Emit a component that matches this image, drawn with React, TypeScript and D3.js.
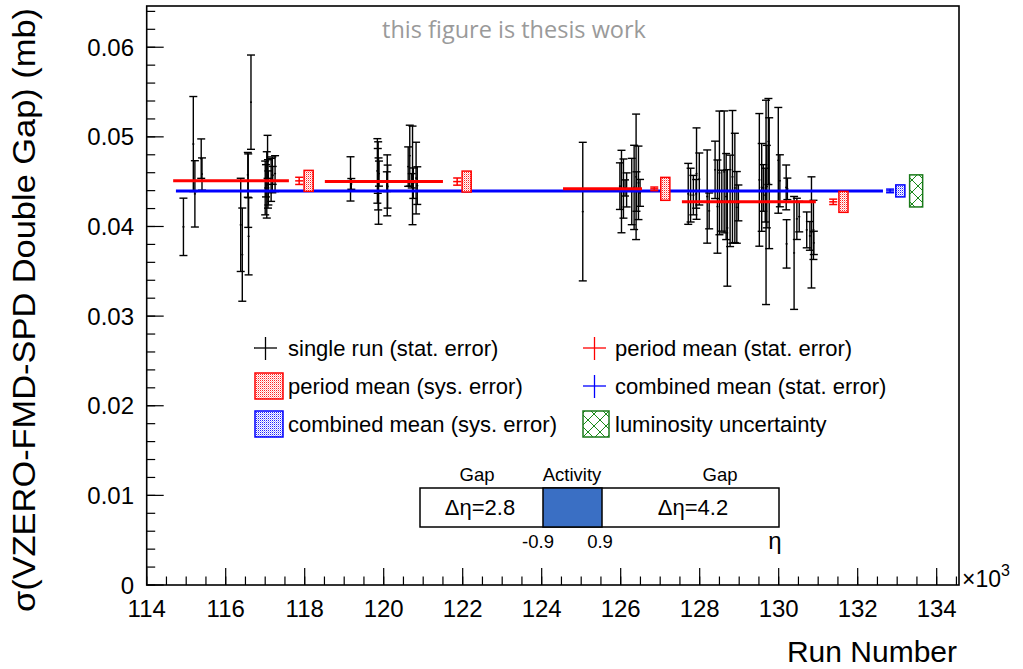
import React from "react";
import * as d3 from "d3";

const W = 1023;
const H = 669;
const PL = 146.7, PR = 959, PT = 6, PB = 585;

// ---- single runs (run number in units of 10^3, sigma in mb, stat. error) ----
const runNumbers = [
  114.93, 115.18, 115.22, 115.38, 115.40, 116.38, 116.42, 116.56, 116.57, 116.58, 116.64,
  117.00, 117.02, 117.04, 117.06, 117.07, 117.08, 117.15, 117.18, 117.19, 117.25,
  119.16, 119.18, 119.84, 119.85, 119.86, 119.87, 119.88, 120.08, 120.09, 120.10,
  120.62, 120.66, 120.71, 120.73, 120.75, 120.82, 120.85,
  125.04, 125.98, 126.02, 126.07, 126.11, 126.15, 126.28, 126.34, 126.39, 126.40, 126.45, 126.49,
  127.71, 127.77, 127.84, 127.91, 127.92, 127.99, 128.19, 128.24, 128.39, 128.45, 128.50, 128.56,
  128.62, 128.67, 128.70, 128.77, 128.83, 128.89, 128.94, 128.98,
  129.51, 129.57, 129.61, 129.66, 129.68, 129.70, 129.74, 129.76, 129.99, 130.03,
  130.19, 130.20, 130.22, 130.39, 130.46, 130.52, 130.71, 130.79, 130.83, 130.88, 130.89,
];
const sigmaValues = [
  0.03996, 0.0492, 0.04364, 0.04757, 0.04585, 0.04018, 0.03686, 0.04576, 0.0440, 0.0389, 0.05387,
  0.0443, 0.0451, 0.04464, 0.04777, 0.04475, 0.0443, 0.0452, 0.04576, 0.0457, 0.0459,
  0.04531, 0.04475, 0.0462, 0.0462, 0.04565, 0.04395, 0.0459, 0.045, 0.04459, 0.04445,
  0.04668, 0.0479, 0.0451, 0.0457, 0.04483, 0.0454, 0.04456,
  0.04166, 0.0445, 0.0439, 0.04423, 0.0443, 0.04408, 0.0439, 0.04436, 0.04554, 0.0439, 0.04487, 0.04375,
  0.04364, 0.0435, 0.0435, 0.04364, 0.0459, 0.0453, 0.04334, 0.04174, 0.04632, 0.04222, 0.04598, 0.04288,
  0.04609, 0.04334, 0.03984, 0.04286, 0.04554, 0.0443, 0.04213, 0.04263,
  0.0452, 0.04436, 0.0443, 0.0435, 0.04269, 0.04445, 0.04948, 0.04483, 0.04738, 0.0451,
  0.04436, 0.03806, 0.0442, 0.03705, 0.04085, 0.0411, 0.03962, 0.03895, 0.03934, 0.03962, 0.03817,
];
const statErrors = [
  0.0032, 0.0053, 0.0037, 0.0022, 0.0018, 0.0052, 0.0052, 0.0025, 0.0041, 0.0043, 0.00526,
  0.003, 0.0018, 0.0037, 0.0024, 0.0027, 0.0019, 0.0024, 0.002, 0.001, 0.002,
  0.00247, 0.0006, 0.0036, 0.0025, 0.0038, 0.0037, 0.0014, 0.0011, 0.0034, 0.0024,
  0.0022, 0.0034, 0.0008, 0.0055, 0.0017, 0.004, 0.0021,
  0.00773, 0.0026, 0.0046, 0.0033, 0.0009, 0.0019, 0.0037, 0.0047, 0.007, 0.0022, 0.0041, 0.0015,
  0.0034, 0.003, 0.0022, 0.0016, 0.0051, 0.0029, 0.0052, 0.002, 0.0032, 0.0052, 0.0069, 0.0034,
  0.0068, 0.0048, 0.0065, 0.0051, 0.0074, 0.0061, 0.004, 0.002,
  0.0074, 0.0049, 0.0026, 0.003, 0.0114, 0.0046, 0.0048, 0.0073, 0.0059, 0.0029,
  0.0025, 0.0027, 0.0012, 0.0063, 0.0023, 0.0017, 0.002, 0.0016, 0.0062, 0.0033, 0.0013,
];

// ---- period means ----
const periodStart = [114.67, 118.51, 124.54, 127.55];
const periodEnd = [117.6, 121.5, 126.54, 130.94];
const periodMean = [0.04509, 0.04501, 0.0442, 0.04275];
const periodStatErr = [0.0004, 0.0004, 0.0002, 0.0003];
const periodSysErr = [0.00117, 0.00117, 0.00128, 0.00117];
const periodStatPos = [117.86, 121.86, 126.85, 131.38];
const periodSysPos = [118.1, 122.1, 127.13, 131.64];

// ---- combined mean ----
const combinedStart = 114.74;
const combinedEnd = 132.64;
const combinedMean = 0.04397;
const combinedStatErr = 0.0002;
const combinedSysErr = 0.00067;
const combinedStatPos = 132.82;
const combinedSysPos = 133.08;
const lumiPos = 133.48;
const lumiErr = 0.00179;

// ---- axes ----
const xMajor = [114, 116, 118, 120, 122, 124, 126, 128, 130, 132, 134];
const xTickLabels = ["114", "116", "118", "120", "122", "124", "126", "128", "130", "132", "134"];
const yMajor = [0, 0.01, 0.02, 0.03, 0.04, 0.05, 0.06];
const yTickLabels = ["0", "0.01", "0.02", "0.03", "0.04", "0.05", "0.06"];

const legendLeft = ["single run (stat. error)", "period mean (sys. error)", "combined mean (sys. error)"];
const legendRight = ["period mean (stat. error)", "combined mean (stat. error)", "luminosity uncertainty"];

const FONT = "'Liberation Sans', Arial, Helvetica, sans-serif";

export default function App() {
  const x = d3.scaleLinear().domain([114, 134.565]).range([PL, PR]);
  const y = d3.scaleLinear().domain([0, 0.0646]).range([PB, PT]);

  const xMinor = d3.range(114, 134.51, 0.5);
  const yMinor = d3.range(0, 0.0641, 0.002);

  const cap = 4;
  const boxW = (c: number, w: number) => [x(c - w / 2), x(c + w / 2) - x(c - w / 2)];

  return (
    <svg
      width={W}
      height={H}
      style={{ position: "absolute", left: 0, top: 0, display: "block", background: "#fff" }}
      fontFamily={FONT}
    >
      <defs>
        <pattern id="redDots" width="2" height="2" patternUnits="userSpaceOnUse">
          <rect width="2" height="2" fill="#ffffff" />
          <rect width="1" height="1" fill="#ff2020" />
          <rect x="1" y="1" width="1" height="1" fill="#ffb0b0" />
        </pattern>
        <pattern id="blueDots" width="2" height="2" patternUnits="userSpaceOnUse">
          <rect width="2" height="2" fill="#ffffff" />
          <rect width="1" height="1" fill="#2020ff" />
          <rect x="1" y="1" width="1" height="1" fill="#b0b0ff" />
        </pattern>
        <pattern id="greenHatch" width="12" height="12" patternUnits="userSpaceOnUse">
          <rect width="12" height="12" fill="#fff" />
          <path d="M0,0 L12,12 M12,0 L0,12" stroke="#1a8a1a" strokeWidth="1" />
        </pattern>
      </defs>
      <rect x={0} y={0} width={W} height={H} fill="#fff" />

      <text x={514} y={38} textAnchor="middle" fontSize={23.5} fill="#9a9a9a" fontFamily="'Open Sans', 'Noto Sans', sans-serif">
        this figure is thesis work
      </text>

      {/* single runs */}
      {runNumbers.map((r, i) => {
        const cx = x(r);
        const y1 = y(sigmaValues[i] + statErrors[i]);
        const y0 = y(sigmaValues[i] - statErrors[i]);
        return (
          <g key={"r" + i} stroke="#000" strokeWidth={1.4}>
            <line x1={cx} x2={cx} y1={y1} y2={y0} />
            <line x1={cx - cap} x2={cx + cap} y1={y1} y2={y1} />
            <line x1={cx - cap} x2={cx + cap} y1={y0} y2={y0} />
            <line x1={cx - 1} x2={cx + 1} y1={y(sigmaValues[i])} y2={y(sigmaValues[i])} />
          </g>
        );
      })}

      {/* combined mean line */}
      <line x1={x(combinedStart)} x2={x(combinedEnd)} y1={y(combinedMean)} y2={y(combinedMean)} stroke="#0000ff" strokeWidth={3} />

      {/* period means */}
      {periodMean.map((m, i) => {
        const [bx, bw] = boxW(periodSysPos[i], 0.23);
        const sx = x(periodStatPos[i]);
        return (
          <g key={"p" + i}>
            <line x1={x(periodStart[i])} x2={x(periodEnd[i])} y1={y(m)} y2={y(m)} stroke="#ff0000" strokeWidth={3} />
            <g stroke="#ff0000" strokeWidth={1.5}>
              <line x1={sx} x2={sx} y1={y(m + periodStatErr[i])} y2={y(m - periodStatErr[i])} />
              <line x1={sx - cap} x2={sx + cap} y1={y(m + periodStatErr[i])} y2={y(m + periodStatErr[i])} />
              <line x1={sx - cap} x2={sx + cap} y1={y(m - periodStatErr[i])} y2={y(m - periodStatErr[i])} />
              <line x1={sx - cap} x2={sx + cap} y1={y(m)} y2={y(m)} />
            </g>
            <rect x={bx} width={bw} y={y(m + periodSysErr[i])} height={y(m - periodSysErr[i]) - y(m + periodSysErr[i])}
              fill="url(#redDots)" stroke="#ff0000" strokeWidth={1.5} />
          </g>
        );
      })}

      {/* combined stat / sys / lumi */}
      {(() => {
        const sx = x(combinedStatPos);
        const [bx, bw] = boxW(combinedSysPos, 0.23);
        const [gx, gw] = boxW(lumiPos, 0.33);
        return (
          <g>
            <g stroke="#0000ff" strokeWidth={1.5}>
              <line x1={sx} x2={sx} y1={y(combinedMean + combinedStatErr)} y2={y(combinedMean - combinedStatErr)} />
              <line x1={sx - cap} x2={sx + cap} y1={y(combinedMean + combinedStatErr)} y2={y(combinedMean + combinedStatErr)} />
              <line x1={sx - cap} x2={sx + cap} y1={y(combinedMean - combinedStatErr)} y2={y(combinedMean - combinedStatErr)} />
              <line x1={sx - cap} x2={sx + cap} y1={y(combinedMean)} y2={y(combinedMean)} />
            </g>
            <rect x={bx} width={bw} y={y(combinedMean + combinedSysErr)} height={y(combinedMean - combinedSysErr) - y(combinedMean + combinedSysErr)}
              fill="url(#blueDots)" stroke="#0000ff" strokeWidth={1.5} />
            <rect x={gx} width={gw} y={y(combinedMean + lumiErr)} height={y(combinedMean - lumiErr) - y(combinedMean + lumiErr)}
              fill="url(#greenHatch)" stroke="#1a7a1a" strokeWidth={1.5} />
          </g>
        );
      })()}

      {/* legend */}
      <g fontSize={22}>
        {legendLeft.map((t, i) => (
          <text key={"ll" + i} x={288} y={356 + i * 38} fill="#000">{t}</text>
        ))}
        {legendRight.map((t, i) => (
          <text key={"lr" + i} x={615} y={356 + i * 38} fill="#000">{t}</text>
        ))}
        <g stroke="#000" strokeWidth={1.3}>
          <line x1={254} x2={277} y1={348} y2={348} />
          <line x1={265.5} x2={265.5} y1={337} y2={360} />
        </g>
        <g stroke="#ff0000" strokeWidth={1.3}>
          <line x1={583} x2={606} y1={348} y2={348} />
          <line x1={594.5} x2={594.5} y1={337} y2={360} />
        </g>
        <g stroke="#0000ff" strokeWidth={1.3}>
          <line x1={583} x2={606} y1={386} y2={386} />
          <line x1={594.5} x2={594.5} y1={375} y2={398} />
        </g>
        <rect x={255} y={373} width={28} height={26} fill="url(#redDots)" stroke="#ff0000" strokeWidth={1.5} />
        <rect x={255} y={411} width={28} height={26} fill="url(#blueDots)" stroke="#0000ff" strokeWidth={1.5} />
        <rect x={583} y={411} width={26} height={26} fill="url(#greenHatch)" stroke="#1a7a1a" strokeWidth={1.5} />
      </g>

      {/* inset eta diagram */}
      <g>
        <rect x={420} y={488} width={359} height={39} fill="#fff" stroke="#000" strokeWidth={1.5} />
        <rect x={543} y={488} width={59} height={39} fill="#3a6fc4" stroke="#000" strokeWidth={1.5} />
        <g fontSize={18.5} textAnchor="middle" fill="#000">
          <text x={477} y={481}>Gap</text>
          <text x={572} y={481}>Activity</text>
          <text x={720} y={481}>Gap</text>
          <text x={538} y={548}>-0.9</text>
          <text x={600} y={548}>0.9</text>
        </g>
        <g fontSize={22} textAnchor="middle" fill="#000">
          <text x={480} y={515}>Δη=2.8</text>
          <text x={693} y={515}>Δη=4.2</text>
        </g>
        <text x={775} y={549} fontSize={24} textAnchor="middle">η</text>
      </g>

      {/* frame */}
      <rect x={PL} y={PT} width={PR - PL} height={PB - PT} fill="none" stroke="#000" strokeWidth={1.6} />

      {/* ticks */}
      <g stroke="#000" strokeWidth={1.2}>
        {xMinor.map((v, i) => (
          <line key={"xm" + i} x1={x(v)} x2={x(v)} y1={PB} y2={PB - 8.5} />
        ))}
        {xMajor.map((v, i) => (
          <line key={"xM" + i} x1={x(v)} x2={x(v)} y1={PB} y2={PB - 17} />
        ))}
        {yMinor.map((v, i) => (
          <line key={"ym" + i} x1={PL} x2={PL + 8.5} y1={y(v)} y2={y(v)} />
        ))}
        {yMajor.map((v, i) => (
          <line key={"yM" + i} x1={PL} x2={PL + 17} y1={y(v)} y2={y(v)} />
        ))}
      </g>
      <g fontSize={24} fill="#000">
        {xMajor.map((v, i) => (
          <text key={"xl" + i} x={x(v)} y={617} textAnchor="middle">{xTickLabels[i]}</text>
        ))}
        {yMajor.map((v, i) => (
          <text key={"yl" + i} x={134} y={y(v) + 8.5} textAnchor="end">{yTickLabels[i]}</text>
        ))}
      </g>
      <text x={962} y={587} fontSize={23} fill="#000">×10<tspan dy={-11} fontSize={16}>3</tspan></text>

      <text x={957} y={662} fontSize={30} textAnchor="end" fill="#000">Run Number</text>
      <text transform="translate(35,8) rotate(-90)" fontSize={31} textAnchor="end" fill="#000"
        textLength={604} lengthAdjust="spacingAndGlyphs">
        σ(VZERO-FMD-SPD Double Gap) (mb)
      </text>
    </svg>
  );
}
